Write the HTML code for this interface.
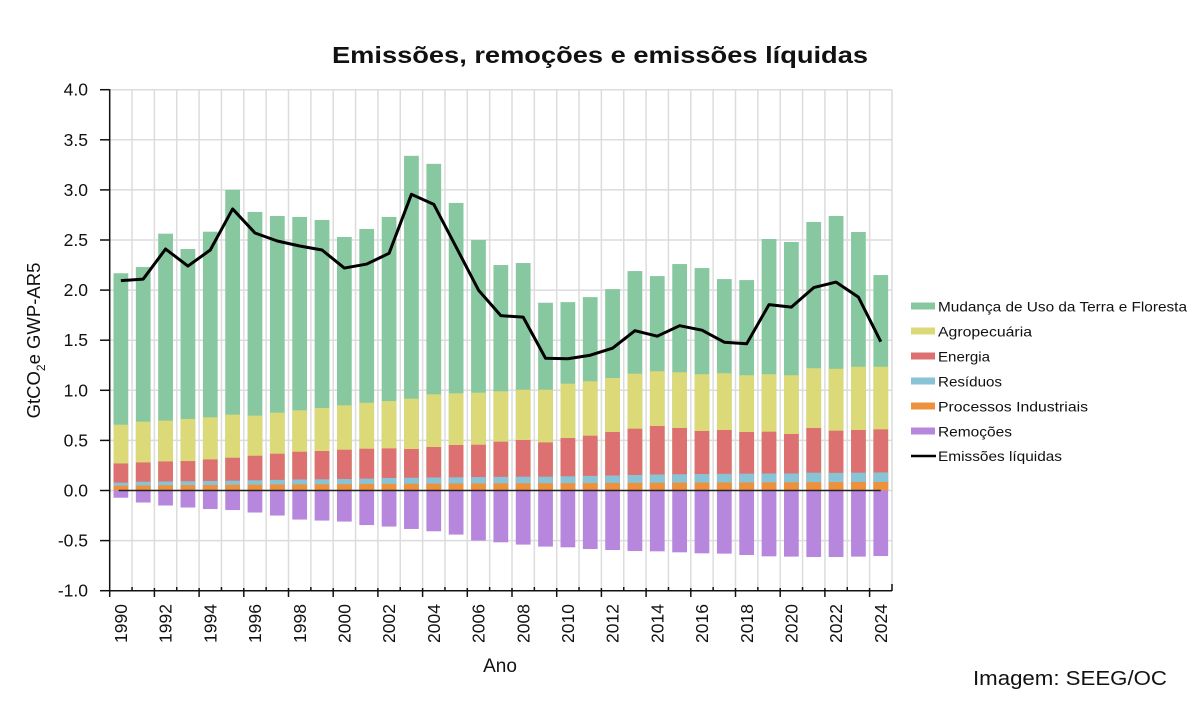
<!DOCTYPE html>
<html>
<head>
<meta charset="utf-8">
<style>
  html, body { margin: 0; padding: 0; background: #ffffff; }
  svg { display: block; }
  text { font-family: "Liberation Sans", "DejaVu Sans", sans-serif; fill: #111; }
</style>
</head>
<body>
<svg width="1200" height="720" viewBox="0 0 1200 720" xmlns="http://www.w3.org/2000/svg">
  <rect x="0" y="0" width="1200" height="720" fill="#ffffff"/>

  <!-- Title -->
  <text x="600" y="63" text-anchor="middle" font-size="23" font-weight="bold" textLength="536" lengthAdjust="spacingAndGlyphs">Emissões, remoções e emissões líquidas</text>

  <!-- Horizontal gridlines -->
  <g stroke="#dcdcdc" stroke-width="1.5">
    <line x1="109.7" x2="892" y1="89.7" y2="89.7"/>
    <line x1="109.7" x2="892" y1="139.8" y2="139.8"/>
    <line x1="109.7" x2="892" y1="189.9" y2="189.9"/>
    <line x1="109.7" x2="892" y1="240" y2="240"/>
    <line x1="109.7" x2="892" y1="290.1" y2="290.1"/>
    <line x1="109.7" x2="892" y1="340.2" y2="340.2"/>
    <line x1="109.7" x2="892" y1="390.3" y2="390.3"/>
    <line x1="109.7" x2="892" y1="440.4" y2="440.4"/>
    <line x1="109.7" x2="892" y1="490.5" y2="490.5"/>
    <line x1="109.7" x2="892" y1="540.6" y2="540.6"/>
  </g>
  <!-- Vertical gridlines -->
  <g stroke="#dcdcdc" stroke-width="1.5" transform="translate(109.7,0)">
    <line x1="22.35" x2="22.35" y1="89.7" y2="590.7"/>
    <line x1="44.7" x2="44.7" y1="89.7" y2="590.7"/>
    <line x1="67.05" x2="67.05" y1="89.7" y2="590.7"/>
    <line x1="89.4" x2="89.4" y1="89.7" y2="590.7"/>
    <line x1="111.75" x2="111.75" y1="89.7" y2="590.7"/>
    <line x1="134.1" x2="134.1" y1="89.7" y2="590.7"/>
    <line x1="156.45" x2="156.45" y1="89.7" y2="590.7"/>
    <line x1="178.8" x2="178.8" y1="89.7" y2="590.7"/>
    <line x1="201.15" x2="201.15" y1="89.7" y2="590.7"/>
    <line x1="223.5" x2="223.5" y1="89.7" y2="590.7"/>
    <line x1="245.85" x2="245.85" y1="89.7" y2="590.7"/>
    <line x1="268.2" x2="268.2" y1="89.7" y2="590.7"/>
    <line x1="290.55" x2="290.55" y1="89.7" y2="590.7"/>
    <line x1="312.9" x2="312.9" y1="89.7" y2="590.7"/>
    <line x1="335.25" x2="335.25" y1="89.7" y2="590.7"/>
    <line x1="357.6" x2="357.6" y1="89.7" y2="590.7"/>
    <line x1="379.95" x2="379.95" y1="89.7" y2="590.7"/>
    <line x1="402.3" x2="402.3" y1="89.7" y2="590.7"/>
    <line x1="424.65" x2="424.65" y1="89.7" y2="590.7"/>
    <line x1="447" x2="447" y1="89.7" y2="590.7"/>
    <line x1="469.35" x2="469.35" y1="89.7" y2="590.7"/>
    <line x1="491.7" x2="491.7" y1="89.7" y2="590.7"/>
    <line x1="514.05" x2="514.05" y1="89.7" y2="590.7"/>
    <line x1="536.4" x2="536.4" y1="89.7" y2="590.7"/>
    <line x1="558.75" x2="558.75" y1="89.7" y2="590.7"/>
    <line x1="581.1" x2="581.1" y1="89.7" y2="590.7"/>
    <line x1="603.45" x2="603.45" y1="89.7" y2="590.7"/>
    <line x1="625.8" x2="625.8" y1="89.7" y2="590.7"/>
    <line x1="648.15" x2="648.15" y1="89.7" y2="590.7"/>
    <line x1="670.5" x2="670.5" y1="89.7" y2="590.7"/>
    <line x1="692.85" x2="692.85" y1="89.7" y2="590.7"/>
    <line x1="715.2" x2="715.2" y1="89.7" y2="590.7"/>
    <line x1="737.55" x2="737.55" y1="89.7" y2="590.7"/>
    <line x1="759.9" x2="759.9" y1="89.7" y2="590.7"/>
    <line x1="782.3" x2="782.3" y1="89.7" y2="590.7"/>
  </g>

  <!-- Bars in data coordinates -->
  <g transform="translate(109.7,490.5) scale(22.35,-100.2)">
    <!-- Green: total top -->
    <g fill="#87c8a0">
      <rect x="0.17" y="0" width="0.66" height="2.168"/>
      <rect x="1.17" y="0" width="0.66" height="2.23"/>
      <rect x="2.17" y="0" width="0.66" height="2.563"/>
      <rect x="3.17" y="0" width="0.66" height="2.41"/>
      <rect x="4.17" y="0" width="0.66" height="2.583"/>
      <rect x="5.17" y="0" width="0.66" height="3.00"/>
      <rect x="6.17" y="0" width="0.66" height="2.78"/>
      <rect x="7.17" y="0" width="0.66" height="2.74"/>
      <rect x="8.17" y="0" width="0.66" height="2.73"/>
      <rect x="9.17" y="0" width="0.66" height="2.70"/>
      <rect x="10.17" y="0" width="0.66" height="2.53"/>
      <rect x="11.17" y="0" width="0.66" height="2.61"/>
      <rect x="12.17" y="0" width="0.66" height="2.73"/>
      <rect x="13.17" y="0" width="0.66" height="3.34"/>
      <rect x="14.17" y="0" width="0.66" height="3.26"/>
      <rect x="15.17" y="0" width="0.66" height="2.87"/>
      <rect x="16.17" y="0" width="0.66" height="2.50"/>
      <rect x="17.17" y="0" width="0.66" height="2.25"/>
      <rect x="18.17" y="0" width="0.66" height="2.27"/>
      <rect x="19.17" y="0" width="0.66" height="1.874"/>
      <rect x="20.17" y="0" width="0.66" height="1.88"/>
      <rect x="21.17" y="0" width="0.66" height="1.93"/>
      <rect x="22.17" y="0" width="0.66" height="2.01"/>
      <rect x="23.17" y="0" width="0.66" height="2.19"/>
      <rect x="24.17" y="0" width="0.66" height="2.14"/>
      <rect x="25.17" y="0" width="0.66" height="2.26"/>
      <rect x="26.17" y="0" width="0.66" height="2.22"/>
      <rect x="27.17" y="0" width="0.66" height="2.11"/>
      <rect x="28.17" y="0" width="0.66" height="2.10"/>
      <rect x="29.17" y="0" width="0.66" height="2.51"/>
      <rect x="30.17" y="0" width="0.66" height="2.48"/>
      <rect x="31.17" y="0" width="0.66" height="2.68"/>
      <rect x="32.17" y="0" width="0.66" height="2.74"/>
      <rect x="33.17" y="0" width="0.66" height="2.58"/>
      <rect x="34.17" y="0" width="0.66" height="2.15"/>
    </g>
    <!-- Yellow: Agropecuária top -->
    <g fill="#dcda78">
      <rect x="0.17" y="0" width="0.66" height="0.657"/>
      <rect x="1.17" y="0" width="0.66" height="0.687"/>
      <rect x="2.17" y="0" width="0.66" height="0.697"/>
      <rect x="3.17" y="0" width="0.66" height="0.714"/>
      <rect x="4.17" y="0" width="0.66" height="0.73"/>
      <rect x="5.17" y="0" width="0.66" height="0.757"/>
      <rect x="6.17" y="0" width="0.66" height="0.747"/>
      <rect x="7.17" y="0" width="0.66" height="0.777"/>
      <rect x="8.17" y="0" width="0.66" height="0.80"/>
      <rect x="9.17" y="0" width="0.66" height="0.823"/>
      <rect x="10.17" y="0" width="0.66" height="0.85"/>
      <rect x="11.17" y="0" width="0.66" height="0.876"/>
      <rect x="12.17" y="0" width="0.66" height="0.893"/>
      <rect x="13.17" y="0" width="0.66" height="0.916"/>
      <rect x="14.17" y="0" width="0.66" height="0.96"/>
      <rect x="15.17" y="0" width="0.66" height="0.97"/>
      <rect x="16.17" y="0" width="0.66" height="0.976"/>
      <rect x="17.17" y="0" width="0.66" height="0.99"/>
      <rect x="18.17" y="0" width="0.66" height="1.006"/>
      <rect x="19.17" y="0" width="0.66" height="1.006"/>
      <rect x="20.17" y="0" width="0.66" height="1.066"/>
      <rect x="21.17" y="0" width="0.66" height="1.09"/>
      <rect x="22.17" y="0" width="0.66" height="1.123"/>
      <rect x="23.17" y="0" width="0.66" height="1.166"/>
      <rect x="24.17" y="0" width="0.66" height="1.19"/>
      <rect x="25.17" y="0" width="0.66" height="1.18"/>
      <rect x="26.17" y="0" width="0.66" height="1.16"/>
      <rect x="27.17" y="0" width="0.66" height="1.17"/>
      <rect x="28.17" y="0" width="0.66" height="1.15"/>
      <rect x="29.17" y="0" width="0.66" height="1.16"/>
      <rect x="30.17" y="0" width="0.66" height="1.15"/>
      <rect x="31.17" y="0" width="0.66" height="1.22"/>
      <rect x="32.17" y="0" width="0.66" height="1.215"/>
      <rect x="33.17" y="0" width="0.66" height="1.235"/>
      <rect x="34.17" y="0" width="0.66" height="1.235"/>
    </g>
    <!-- Red: Energia top -->
    <g fill="#dd7171">
      <rect x="0.17" y="0" width="0.66" height="0.27"/>
      <rect x="1.17" y="0" width="0.66" height="0.28"/>
      <rect x="2.17" y="0" width="0.66" height="0.29"/>
      <rect x="3.17" y="0" width="0.66" height="0.294"/>
      <rect x="4.17" y="0" width="0.66" height="0.31"/>
      <rect x="5.17" y="0" width="0.66" height="0.327"/>
      <rect x="6.17" y="0" width="0.66" height="0.347"/>
      <rect x="7.17" y="0" width="0.66" height="0.367"/>
      <rect x="8.17" y="0" width="0.66" height="0.387"/>
      <rect x="9.17" y="0" width="0.66" height="0.394"/>
      <rect x="10.17" y="0" width="0.66" height="0.407"/>
      <rect x="11.17" y="0" width="0.66" height="0.417"/>
      <rect x="12.17" y="0" width="0.66" height="0.42"/>
      <rect x="13.17" y="0" width="0.66" height="0.414"/>
      <rect x="14.17" y="0" width="0.66" height="0.434"/>
      <rect x="15.17" y="0" width="0.66" height="0.454"/>
      <rect x="16.17" y="0" width="0.66" height="0.457"/>
      <rect x="17.17" y="0" width="0.66" height="0.487"/>
      <rect x="18.17" y="0" width="0.66" height="0.504"/>
      <rect x="19.17" y="0" width="0.66" height="0.48"/>
      <rect x="20.17" y="0" width="0.66" height="0.524"/>
      <rect x="21.17" y="0" width="0.66" height="0.547"/>
      <rect x="22.17" y="0" width="0.66" height="0.584"/>
      <rect x="23.17" y="0" width="0.66" height="0.617"/>
      <rect x="24.17" y="0" width="0.66" height="0.644"/>
      <rect x="25.17" y="0" width="0.66" height="0.624"/>
      <rect x="26.17" y="0" width="0.66" height="0.594"/>
      <rect x="27.17" y="0" width="0.66" height="0.604"/>
      <rect x="28.17" y="0" width="0.66" height="0.584"/>
      <rect x="29.17" y="0" width="0.66" height="0.587"/>
      <rect x="30.17" y="0" width="0.66" height="0.564"/>
      <rect x="31.17" y="0" width="0.66" height="0.624"/>
      <rect x="32.17" y="0" width="0.66" height="0.597"/>
      <rect x="33.17" y="0" width="0.66" height="0.604"/>
      <rect x="34.17" y="0" width="0.66" height="0.61"/>
    </g>
    <!-- Blue: Resíduos top -->
    <g fill="#88c3d6">
      <rect x="0.17" y="0" width="0.66" height="0.078"/>
      <rect x="1.17" y="0" width="0.66" height="0.088"/>
      <rect x="2.17" y="0" width="0.66" height="0.09"/>
      <rect x="3.17" y="0" width="0.66" height="0.092"/>
      <rect x="4.17" y="0" width="0.66" height="0.095"/>
      <rect x="5.17" y="0" width="0.66" height="0.098"/>
      <rect x="6.17" y="0" width="0.66" height="0.102"/>
      <rect x="7.17" y="0" width="0.66" height="0.106"/>
      <rect x="8.17" y="0" width="0.66" height="0.11"/>
      <rect x="9.17" y="0" width="0.66" height="0.112"/>
      <rect x="10.17" y="0" width="0.66" height="0.115"/>
      <rect x="11.17" y="0" width="0.66" height="0.118"/>
      <rect x="12.17" y="0" width="0.66" height="0.125"/>
      <rect x="13.17" y="0" width="0.66" height="0.127"/>
      <rect x="14.17" y="0" width="0.66" height="0.13"/>
      <rect x="15.17" y="0" width="0.66" height="0.132"/>
      <rect x="16.17" y="0" width="0.66" height="0.134"/>
      <rect x="17.17" y="0" width="0.66" height="0.136"/>
      <rect x="18.17" y="0" width="0.66" height="0.138"/>
      <rect x="19.17" y="0" width="0.66" height="0.138"/>
      <rect x="20.17" y="0" width="0.66" height="0.142"/>
      <rect x="21.17" y="0" width="0.66" height="0.146"/>
      <rect x="22.17" y="0" width="0.66" height="0.15"/>
      <rect x="23.17" y="0" width="0.66" height="0.155"/>
      <rect x="24.17" y="0" width="0.66" height="0.16"/>
      <rect x="25.17" y="0" width="0.66" height="0.162"/>
      <rect x="26.17" y="0" width="0.66" height="0.164"/>
      <rect x="27.17" y="0" width="0.66" height="0.166"/>
      <rect x="28.17" y="0" width="0.66" height="0.168"/>
      <rect x="29.17" y="0" width="0.66" height="0.17"/>
      <rect x="30.17" y="0" width="0.66" height="0.17"/>
      <rect x="31.17" y="0" width="0.66" height="0.178"/>
      <rect x="32.17" y="0" width="0.66" height="0.176"/>
      <rect x="33.17" y="0" width="0.66" height="0.178"/>
      <rect x="34.17" y="0" width="0.66" height="0.18"/>
    </g>
    <!-- Orange: Processos Industriais top -->
    <g fill="#ee913d">
      <rect x="0.17" y="0" width="0.66" height="0.048"/>
      <rect x="1.17" y="0" width="0.66" height="0.05"/>
      <rect x="2.17" y="0" width="0.66" height="0.052"/>
      <rect x="3.17" y="0" width="0.66" height="0.054"/>
      <rect x="4.17" y="0" width="0.66" height="0.055"/>
      <rect x="5.17" y="0" width="0.66" height="0.057"/>
      <rect x="6.17" y="0" width="0.66" height="0.058"/>
      <rect x="7.17" y="0" width="0.66" height="0.06"/>
      <rect x="8.17" y="0" width="0.66" height="0.061"/>
      <rect x="9.17" y="0" width="0.66" height="0.062"/>
      <rect x="10.17" y="0" width="0.66" height="0.063"/>
      <rect x="11.17" y="0" width="0.66" height="0.065"/>
      <rect x="12.17" y="0" width="0.66" height="0.066"/>
      <rect x="13.17" y="0" width="0.66" height="0.067"/>
      <rect x="14.17" y="0" width="0.66" height="0.068"/>
      <rect x="15.17" y="0" width="0.66" height="0.069"/>
      <rect x="16.17" y="0" width="0.66" height="0.07"/>
      <rect x="17.17" y="0" width="0.66" height="0.071"/>
      <rect x="18.17" y="0" width="0.66" height="0.072"/>
      <rect x="19.17" y="0" width="0.66" height="0.072"/>
      <rect x="20.17" y="0" width="0.66" height="0.073"/>
      <rect x="21.17" y="0" width="0.66" height="0.074"/>
      <rect x="22.17" y="0" width="0.66" height="0.075"/>
      <rect x="23.17" y="0" width="0.66" height="0.076"/>
      <rect x="24.17" y="0" width="0.66" height="0.077"/>
      <rect x="25.17" y="0" width="0.66" height="0.078"/>
      <rect x="26.17" y="0" width="0.66" height="0.079"/>
      <rect x="27.17" y="0" width="0.66" height="0.08"/>
      <rect x="28.17" y="0" width="0.66" height="0.08"/>
      <rect x="29.17" y="0" width="0.66" height="0.081"/>
      <rect x="30.17" y="0" width="0.66" height="0.082"/>
      <rect x="31.17" y="0" width="0.66" height="0.083"/>
      <rect x="32.17" y="0" width="0.66" height="0.084"/>
      <rect x="33.17" y="0" width="0.66" height="0.085"/>
      <rect x="34.17" y="0" width="0.66" height="0.085"/>
    </g>
    <!-- Purple: Remoções (negative) -->
    <g fill="#b787dd">
      <rect x="0.17" y="-0.072" width="0.66" height="0.072"/>
      <rect x="1.17" y="-0.12" width="0.66" height="0.12"/>
      <rect x="2.17" y="-0.15" width="0.66" height="0.15"/>
      <rect x="3.17" y="-0.17" width="0.66" height="0.17"/>
      <rect x="4.17" y="-0.185" width="0.66" height="0.185"/>
      <rect x="5.17" y="-0.195" width="0.66" height="0.195"/>
      <rect x="6.17" y="-0.22" width="0.66" height="0.22"/>
      <rect x="7.17" y="-0.25" width="0.66" height="0.25"/>
      <rect x="8.17" y="-0.29" width="0.66" height="0.29"/>
      <rect x="9.17" y="-0.30" width="0.66" height="0.30"/>
      <rect x="10.17" y="-0.31" width="0.66" height="0.31"/>
      <rect x="11.17" y="-0.345" width="0.66" height="0.345"/>
      <rect x="12.17" y="-0.36" width="0.66" height="0.36"/>
      <rect x="13.17" y="-0.384" width="0.66" height="0.384"/>
      <rect x="14.17" y="-0.407" width="0.66" height="0.407"/>
      <rect x="15.17" y="-0.44" width="0.66" height="0.44"/>
      <rect x="16.17" y="-0.50" width="0.66" height="0.50"/>
      <rect x="17.17" y="-0.517" width="0.66" height="0.517"/>
      <rect x="18.17" y="-0.54" width="0.66" height="0.54"/>
      <rect x="19.17" y="-0.56" width="0.66" height="0.56"/>
      <rect x="20.17" y="-0.567" width="0.66" height="0.567"/>
      <rect x="21.17" y="-0.584" width="0.66" height="0.584"/>
      <rect x="22.17" y="-0.594" width="0.66" height="0.594"/>
      <rect x="23.17" y="-0.604" width="0.66" height="0.604"/>
      <rect x="24.17" y="-0.607" width="0.66" height="0.607"/>
      <rect x="25.17" y="-0.617" width="0.66" height="0.617"/>
      <rect x="26.17" y="-0.627" width="0.66" height="0.627"/>
      <rect x="27.17" y="-0.63" width="0.66" height="0.63"/>
      <rect x="28.17" y="-0.644" width="0.66" height="0.644"/>
      <rect x="29.17" y="-0.657" width="0.66" height="0.657"/>
      <rect x="30.17" y="-0.66" width="0.66" height="0.66"/>
      <rect x="31.17" y="-0.664" width="0.66" height="0.664"/>
      <rect x="32.17" y="-0.664" width="0.66" height="0.664"/>
      <rect x="33.17" y="-0.66" width="0.66" height="0.66"/>
      <rect x="34.17" y="-0.654" width="0.66" height="0.654"/>
    </g>
    <!-- Zero line -->
    <line x1="0.4" y1="0" x2="34.5" y2="0" stroke="#222" stroke-width="1.5" vector-effect="non-scaling-stroke"/>
    <!-- Net emissions line -->
    <polyline fill="none" stroke="#000" stroke-width="3" stroke-linejoin="round" vector-effect="non-scaling-stroke"
      points="0.5,2.094 1.5,2.11 2.5,2.41 3.5,2.24 4.5,2.40 5.5,2.81 6.5,2.57 7.5,2.49 8.5,2.44 9.5,2.40 10.5,2.22 11.5,2.26 12.5,2.367 13.5,2.956 14.5,2.856 15.5,2.43 16.5,2.00 17.5,1.745 18.5,1.73 19.5,1.32 20.5,1.315 21.5,1.35 22.5,1.42 23.5,1.595 24.5,1.54 25.5,1.645 26.5,1.60 27.5,1.48 28.5,1.465 29.5,1.855 30.5,1.83 31.5,2.025 32.5,2.08 33.5,1.93 34.5,1.485"/>
  </g>

  <!-- Axes -->
  <g stroke="#111" stroke-width="1.5">
    <line x1="109.7" y1="89.2" x2="109.7" y2="597"/>
    <line x1="109.7" y1="590.7" x2="892" y2="590.7"/>
    <!-- y ticks -->
    <line x1="100" x2="109.7" y1="89.7" y2="89.7"/>
    <line x1="100" x2="109.7" y1="139.8" y2="139.8"/>
    <line x1="100" x2="109.7" y1="189.9" y2="189.9"/>
    <line x1="100" x2="109.7" y1="240" y2="240"/>
    <line x1="100" x2="109.7" y1="290.1" y2="290.1"/>
    <line x1="100" x2="109.7" y1="340.2" y2="340.2"/>
    <line x1="100" x2="109.7" y1="390.3" y2="390.3"/>
    <line x1="100" x2="109.7" y1="440.4" y2="440.4"/>
    <line x1="100" x2="109.7" y1="490.5" y2="490.5"/>
    <line x1="100" x2="109.7" y1="540.6" y2="540.6"/>
    <line x1="100" x2="109.7" y1="590.7" y2="590.7"/>
  </g>
  <!-- x ticks -->
  <g stroke="#111" stroke-width="1.5" transform="translate(109.7,0)">
    <line x1="44.7" x2="44.7" y1="588" y2="597"/>
    <line x1="89.4" x2="89.4" y1="588" y2="597"/>
    <line x1="134.1" x2="134.1" y1="588" y2="597"/>
    <line x1="178.8" x2="178.8" y1="588" y2="597"/>
    <line x1="223.5" x2="223.5" y1="588" y2="597"/>
    <line x1="268.2" x2="268.2" y1="588" y2="597"/>
    <line x1="312.9" x2="312.9" y1="588" y2="597"/>
    <line x1="357.6" x2="357.6" y1="588" y2="597"/>
    <line x1="402.3" x2="402.3" y1="588" y2="597"/>
    <line x1="447" x2="447" y1="588" y2="597"/>
    <line x1="491.7" x2="491.7" y1="588" y2="597"/>
    <line x1="536.4" x2="536.4" y1="588" y2="597"/>
    <line x1="581.1" x2="581.1" y1="588" y2="597"/>
    <line x1="625.8" x2="625.8" y1="588" y2="597"/>
    <line x1="670.5" x2="670.5" y1="588" y2="597"/>
    <line x1="715.2" x2="715.2" y1="588" y2="597"/>
    <line x1="759.9" x2="759.9" y1="588" y2="597"/>
    <line x1="22.35" x2="22.35" y1="587" y2="591"/>
    <line x1="67.05" x2="67.05" y1="587" y2="591"/>
    <line x1="111.75" x2="111.75" y1="587" y2="591"/>
    <line x1="156.45" x2="156.45" y1="587" y2="591"/>
    <line x1="201.15" x2="201.15" y1="587" y2="591"/>
    <line x1="245.85" x2="245.85" y1="587" y2="591"/>
    <line x1="290.55" x2="290.55" y1="587" y2="591"/>
    <line x1="335.25" x2="335.25" y1="587" y2="591"/>
    <line x1="379.95" x2="379.95" y1="587" y2="591"/>
    <line x1="424.65" x2="424.65" y1="587" y2="591"/>
    <line x1="469.35" x2="469.35" y1="587" y2="591"/>
    <line x1="514.05" x2="514.05" y1="587" y2="591"/>
    <line x1="558.75" x2="558.75" y1="587" y2="591"/>
    <line x1="603.45" x2="603.45" y1="587" y2="591"/>
    <line x1="648.15" x2="648.15" y1="587" y2="591"/>
    <line x1="692.85" x2="692.85" y1="587" y2="591"/>
    <line x1="737.55" x2="737.55" y1="587" y2="591"/>
    <line x1="782.3" x2="782.3" y1="584" y2="591"/>
  </g>

  <!-- Y tick labels -->
  <g font-size="17.5" text-anchor="end">
    <text x="88" y="95.7">4.0</text>
    <text x="88" y="145.8">3.5</text>
    <text x="88" y="195.9">3.0</text>
    <text x="88" y="246">2.5</text>
    <text x="88" y="296.1">2.0</text>
    <text x="88" y="346.2">1.5</text>
    <text x="88" y="396.3">1.0</text>
    <text x="88" y="446.4">0.5</text>
    <text x="88" y="496.5">0.0</text>
    <text x="88" y="546.6">-0.5</text>
    <text x="88" y="596.7">-1.0</text>
  </g>

  <!-- X tick labels (rotated) -->
  <g font-size="17.5" text-anchor="end">
    <text transform="translate(127,604) rotate(-90)">1990</text>
    <text transform="translate(171.7,604) rotate(-90)">1992</text>
    <text transform="translate(216.4,604) rotate(-90)">1994</text>
    <text transform="translate(261.1,604) rotate(-90)">1996</text>
    <text transform="translate(305.8,604) rotate(-90)">1998</text>
    <text transform="translate(350.5,604) rotate(-90)">2000</text>
    <text transform="translate(395.2,604) rotate(-90)">2002</text>
    <text transform="translate(439.9,604) rotate(-90)">2004</text>
    <text transform="translate(484.6,604) rotate(-90)">2006</text>
    <text transform="translate(529.3,604) rotate(-90)">2008</text>
    <text transform="translate(574,604) rotate(-90)">2010</text>
    <text transform="translate(618.7,604) rotate(-90)">2012</text>
    <text transform="translate(663.4,604) rotate(-90)">2014</text>
    <text transform="translate(708.1,604) rotate(-90)">2016</text>
    <text transform="translate(752.8,604) rotate(-90)">2018</text>
    <text transform="translate(797.5,604) rotate(-90)">2020</text>
    <text transform="translate(842.2,604) rotate(-90)">2022</text>
    <text transform="translate(886.9,604) rotate(-90)">2024</text>
  </g>

  <!-- Axis titles -->
  <text x="500" y="672" text-anchor="middle" font-size="19">Ano</text>
  <text transform="translate(40,340.5) rotate(-90)" text-anchor="middle" font-size="18.5">GtCO<tspan font-size="12" dy="5">2</tspan><tspan dy="-5">e GWP-AR5</tspan></text>

  <!-- Legend -->
  <g>
    <rect x="911" y="302.5" width="24" height="7" fill="#87c8a0"/>
    <text x="938" y="311.5" font-size="14" textLength="249" lengthAdjust="spacingAndGlyphs">Mudança de Uso da Terra e Floresta</text>
    <rect x="911" y="327.5" width="24" height="7" fill="#dcda78"/>
    <text x="938" y="336.5" font-size="14" textLength="94" lengthAdjust="spacingAndGlyphs">Agropecuária</text>
    <rect x="911" y="352.5" width="24" height="7" fill="#dd7171"/>
    <text x="938" y="361.5" font-size="14" textLength="52" lengthAdjust="spacingAndGlyphs">Energia</text>
    <rect x="911" y="377.5" width="24" height="7" fill="#88c3d6"/>
    <text x="938" y="386.5" font-size="14" textLength="64" lengthAdjust="spacingAndGlyphs">Resíduos</text>
    <rect x="911" y="402.5" width="24" height="7" fill="#ee913d"/>
    <text x="938" y="411.5" font-size="14" textLength="150" lengthAdjust="spacingAndGlyphs">Processos Industriais</text>
    <rect x="911" y="427.5" width="24" height="7" fill="#b787dd"/>
    <text x="938" y="436.5" font-size="14" textLength="74" lengthAdjust="spacingAndGlyphs">Remoções</text>
    <line x1="911" y1="456" x2="936" y2="456" stroke="#000" stroke-width="2.5"/>
    <text x="938" y="461" font-size="14" textLength="124" lengthAdjust="spacingAndGlyphs">Emissões líquidas</text>
  </g>

  <!-- Source -->
  <text x="973" y="685" font-size="20" textLength="194" lengthAdjust="spacingAndGlyphs">Imagem: SEEG/OC</text>
</svg>
</body>
</html>
